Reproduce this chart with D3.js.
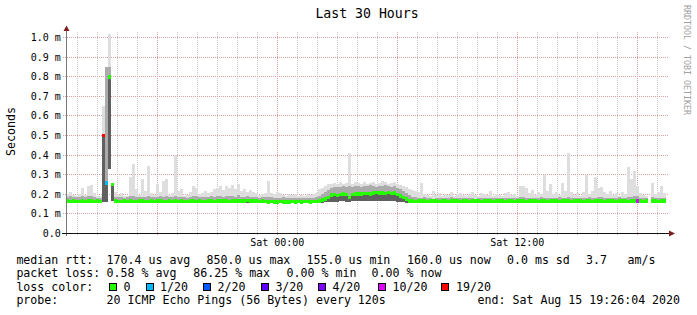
<!DOCTYPE html>
<html><head><meta charset="utf-8">
<script src="https://cdn.jsdelivr.net/npm/d3@7"></script>
<style>html,body{margin:0;padding:0;background:#fff}svg{display:block}text{font-family:"DejaVu Sans Mono",monospace;fill:#000}</style>
</head><body><svg id="c" width="697" height="315"></svg>
<script>
// ---------------- data ----------------
const endTime = Date.UTC(2020, 7, 15, 19, 26, 4);
const spanHours = 30;
const slotMinutes = 9;
// median rtt per 9-minute slot, microseconds (null = no data)
const medianUs = [
166,165,167,165,164,166,165,167,166,165,
166,165,500,260,800,250,166,164,165,167,
165,166,164,165,166,167,165,164,166,165,
167,166,165,164,166,165,167,165,166,164,
165,166,167,165,166,164,165,167,166,165,
167,166,168,166,165,167,166,168,167,166,
169,168,167,166,165,166,164,163,164,162,
163,164,163,162,163,164,163,164,163,165,
164,163,164,165,168,172,178,185,198,200,
196,201,203,200,185,200,202,204,203,205,
206,204,208,210,207,209,206,210,205,208,
200,192,185,178,168,166,165,166,167,166,
165,166,167,166,165,167,166,165,166,167,
166,165,167,166,165,166,167,166,165,166,
167,166,165,166,167,166,165,167,166,165,
166,167,166,165,166,167,166,165,167,166,
165,166,167,166,165,166,167,166,165,166,
167,166,165,167,166,165,166,167,166,165,
166,167,166,165,166,167,166,165,166,167,
168,166,165,166,null,167,166,165,166,167];
// lowest ping per slot
const minUs = [
156,157,155,156,157,156,155,157,156,156,
157,156,160,160,330,165,156,155,157,156,
155,157,156,155,157,156,155,156,157,155,
156,157,155,156,157,156,155,157,156,155,
157,156,155,156,157,155,156,157,156,155,
156,157,156,155,157,156,157,156,155,157,
156,157,156,155,156,155,154,155,154,153,
154,155,154,153,154,155,154,155,154,155,
154,155,156,155,157,158,159,160,162,163,
162,164,165,163,160,164,165,166,164,165,
166,165,167,166,165,167,166,165,164,166,
163,162,160,158,157,156,157,156,157,156,
157,156,157,158,156,157,156,157,158,156,
157,156,158,157,156,157,156,158,157,156,
157,158,156,157,156,157,158,156,157,156,
157,156,158,157,156,157,156,158,157,156,
157,156,157,158,156,157,156,157,158,156,
157,156,158,157,156,157,156,158,157,156,
157,158,156,157,156,157,158,156,157,156,
157,156,157,156,null,157,156,158,157,156];
// upper edge of the dense smoke
const upperUs = [
186,190,184,185,188,192,186,190,192,185,
183,180,500,850,850,255,188,185,186,183,
185,190,192,186,185,188,186,191,185,184,
188,190,186,192,185,184,192,186,188,185,
183,186,190,192,185,186,188,186,190,188,
190,193,188,192,190,193,188,194,186,188,
190,186,185,184,183,185,184,186,185,182,
183,181,184,182,181,183,182,181,183,182,
181,183,182,184,192,200,212,220,230,236,
238,235,240,238,242,236,240,244,238,242,
240,245,242,238,244,240,246,242,238,240,
232,225,215,205,195,188,185,182,183,184,
180,182,178,181,183,179,180,182,184,179,
181,180,183,179,182,180,178,182,181,183,
180,182,179,181,183,180,182,179,181,180,
183,185,184,182,181,183,180,182,184,182,
181,183,180,182,185,183,181,184,182,180,
182,181,183,180,184,182,183,185,184,182,
181,183,182,180,184,182,181,186,188,190,
190,182,180,181,null,185,182,181,183,180];
// highest ping per slot
const maxUs = [
200,210,195,190,200,230,195,240,245,205,
190,190,650,850,1020,260,210,195,205,190,
190,290,355,225,195,280,215,345,205,195,
250,210,270,280,195,205,400,215,225,190,
195,210,240,230,200,205,215,205,210,225,
230,240,220,240,230,245,225,250,215,225,
210,220,210,205,195,200,205,270,205,200,
210,205,195,190,200,195,200,190,195,190,
200,195,200,205,225,230,240,250,255,260,
250,265,255,260,410,255,265,260,250,265,
255,260,265,250,260,270,265,255,260,265,
250,245,240,235,225,220,215,210,260,200,
195,190,215,195,205,190,200,195,210,190,
200,205,195,190,200,210,195,190,205,200,
195,215,190,200,195,190,205,210,195,200,
190,240,240,230,205,220,195,210,200,300,
215,250,200,210,195,260,215,410,210,195,
205,190,210,300,200,215,290,230,235,210,
200,215,195,205,190,210,200,340,280,320,
240,205,195,190,null,260,200,210,240,205];
// [slot, lost pings of 20]
const lossEvents = [[12,19],[13,1],[190,10]];
const lossLevels = [0,1,2,3,4,10,19];
const lossLabels = ["0","1/20","2/20","3/20","4/20","10/20","19/20"];
const yTicksMs = [0,0.1,0.2,0.3,0.4,0.5,0.6,0.7,0.8,0.9,1.0];
const title = "Last 30 Hours";
const yTitle = "Seconds";
const watermark = "RRDTOOL / TOBI OETIKER";
const rttLabel = "median rtt:";
const rttStats = ["170.4 us avg","850.0 us max","155.0 us min","160.0 us now","0.0 ms sd","3.7","am/s"];
const lossLabel = "packet loss:";
const lossStats = ["0.58 % avg","86.25 % max","0.00 % min","0.00 % now"];
const colorLabel = "loss color:";
const probeLabel = "probe:";
const probeText = "20 ICMP Echo Pings (56 Bytes) every 120s";
const endText = "end: Sat Aug 15 19:26:04 2020";

// ---------------- layout / style ----------------
const lossColors = ["#26ff00","#00b8ff","#0059ff","#5e00ff","#7e00ff","#dd00ff","#ff0000"];
const rttX = [106.6,206.6,306.6,407,507,586,627.6];
const lossX = [106.6,193.3,286.6,371.6];
const boxX = [109.5,146.5,203.5,261.5,318.5,378.5,441.5];
const boxLabelX = [123.4,160,217.6,275.4,332.4,392.6,456];
const rowY = [263.5,277.1,290.7,304.3];
const legendX = 16.4;

const svg = d3.select("#c");
const startTime = endTime - spanHours*3600*1000;
const x = d3.scaleUtc().domain([new Date(startTime), new Date(endTime)]).range([66, 666]);
const y = d3.scaleLinear().domain([0, 1.0204]).range([233.5, 33.5]);
const px = v => Math.round(v - 0.5) + 0.5;

// grid
const g = svg.append("g");
const minorH = d3.utcHour.every(1).range(new Date(startTime), new Date(endTime));
g.selectAll("line.vmin").data(minorH.filter(d => d.getUTCHours() % 6 !== 0)).join("line")
  .attr("x1", d => px(x(d))).attr("x2", d => px(x(d))).attr("y1", 32).attr("y2", 236)
  .attr("stroke", "#c8c8c8").attr("stroke-dasharray", "1,1");
g.selectAll("line.vmaj").data(minorH.filter(d => d.getUTCHours() % 6 === 0)).join("line")
  .attr("x1", d => px(x(d))).attr("x2", d => px(x(d))).attr("y1", 32).attr("y2", 236)
  .attr("stroke", "#dba0a0").attr("stroke-dasharray", "1,1");
g.selectAll("line.h").data(yTicksMs.slice(1)).join("line")
  .attr("x1", 63).attr("x2", 668).attr("y1", d => px(y(d))).attr("y2", d => px(y(d)))
  .attr("stroke", "#dba0a0").attr("stroke-dasharray", "1,1");

// smoke + median
const slotMs = slotMinutes*60*1000;
const slots = medianUs.map((m, i) => ({
  i, med: m, lo: minUs[i], hi: upperUs[i], mx: maxUs[i],
  x0: x(new Date(startTime + i*slotMs)), x1: x(new Date(startTime + (i+1)*slotMs))
})).filter(d => d.med !== null);
const lossBySlot = new Map(lossEvents);
function lossColor(i){
  const l = lossBySlot.get(i) || 0;
  let k = 0; lossLevels.forEach((lv, j) => { if (l >= lv) k = j; });
  return lossColors[k];
}
const sm = svg.append("g").attr("shape-rendering", "crispEdges");
function band(cls, a, b, color){
  sm.selectAll("rect." + cls).data(slots).join("rect").attr("class", cls)
    .attr("x", d => d.x0).attr("width", d => d.x1 - d.x0)
    .attr("y", d => y(Math.max(a(d), b(d))/1000))
    .attr("height", d => Math.abs(y(a(d)/1000) - y(b(d)/1000)))
    .attr("fill", color);
}
band("s1", d => d.lo, d => d.mx, "#dedede");
band("s2", d => d.lo, d => d.hi, "#ababab");
band("s3", d => d.lo, d => d.med, "#606060");
sm.selectAll("rect.med").data(slots).join("rect").attr("class", "med")
  .attr("x", d => d.x0).attr("width", d => d.x1 - d.x0)
  .attr("y", d => y(d.med/1000) - 1.5).attr("height", 3.5)
  .attr("fill", d => lossColor(d.i));

// axes
svg.append("line").attr("x1", 66.5).attr("x2", 66.5).attr("y1", 236).attr("y2", 29).attr("stroke", "#7a7a7a");
svg.append("line").attr("x1", 62).attr("x2", 670).attr("y1", 233.5).attr("y2", 233.5).attr("stroke", "#111");
svg.append("path").attr("d", "M63.5,31L69.5,31L66.5,25.5Z").attr("fill", "#7f1f1f");
svg.append("path").attr("d", "M669,230.5L669,236.5L675,233.5Z").attr("fill", "#7f1f1f");

// y labels
svg.selectAll("text.yl").data(yTicksMs).join("text").attr("class", "yl")
  .attr("x", 60.8).attr("y", d => y(d) + 3.6).attr("text-anchor", "end").style("font-size", "10px")
  .text(d => d === 0 ? "0.0" : d.toFixed(1) + " m");
// x labels
const xl = d3.utcHour.every(12).range(new Date(startTime), new Date(endTime));
const fmt = d3.utcFormat("%a %H:%M");
svg.selectAll("text.xl").data(xl).join("text").attr("class", "xl")
  .attr("x", d => x(d)).attr("y", 245.5).attr("text-anchor", "middle").style("font-size", "10px")
  .text(fmt);

// titles
svg.append("text").attr("x", 367).attr("y", 18.4).attr("text-anchor", "middle").style("font-size", "13.2px").text(title);
svg.append("text").attr("transform", "translate(15,131.5) rotate(-90)").attr("text-anchor", "middle").style("font-size", "11.6px").text(yTitle);
svg.append("text").attr("transform", "translate(683.6,5) rotate(90)").style("font-size", "8.3px").style("fill", "#a0a0a0").text(watermark);

// legend
const fs = "11.6px";
function t(xp, yp, s){ svg.append("text").attr("x", xp).attr("y", yp).style("font-size", fs).style("white-space", "pre").text(s); }
t(legendX, rowY[0], rttLabel);
rttStats.forEach((s, i) => t(rttX[i], rowY[0], s));
t(legendX, rowY[1], lossLabel);
lossStats.forEach((s, i) => t(lossX[i], rowY[1], s));
t(legendX, rowY[2], colorLabel);
lossLabels.forEach((s, i) => {
  svg.append("rect").attr("x", boxX[i]).attr("y", 283.5).attr("width", 7).attr("height", 7)
    .attr("fill", lossColors[i]).attr("stroke", "#000").attr("stroke-width", 1);
  t(boxLabelX[i], rowY[2], s);
});
t(legendX, rowY[3], probeLabel);
t(106.6, rowY[3], probeText);
t(477.6, rowY[3], endText);
</script></body></html>
